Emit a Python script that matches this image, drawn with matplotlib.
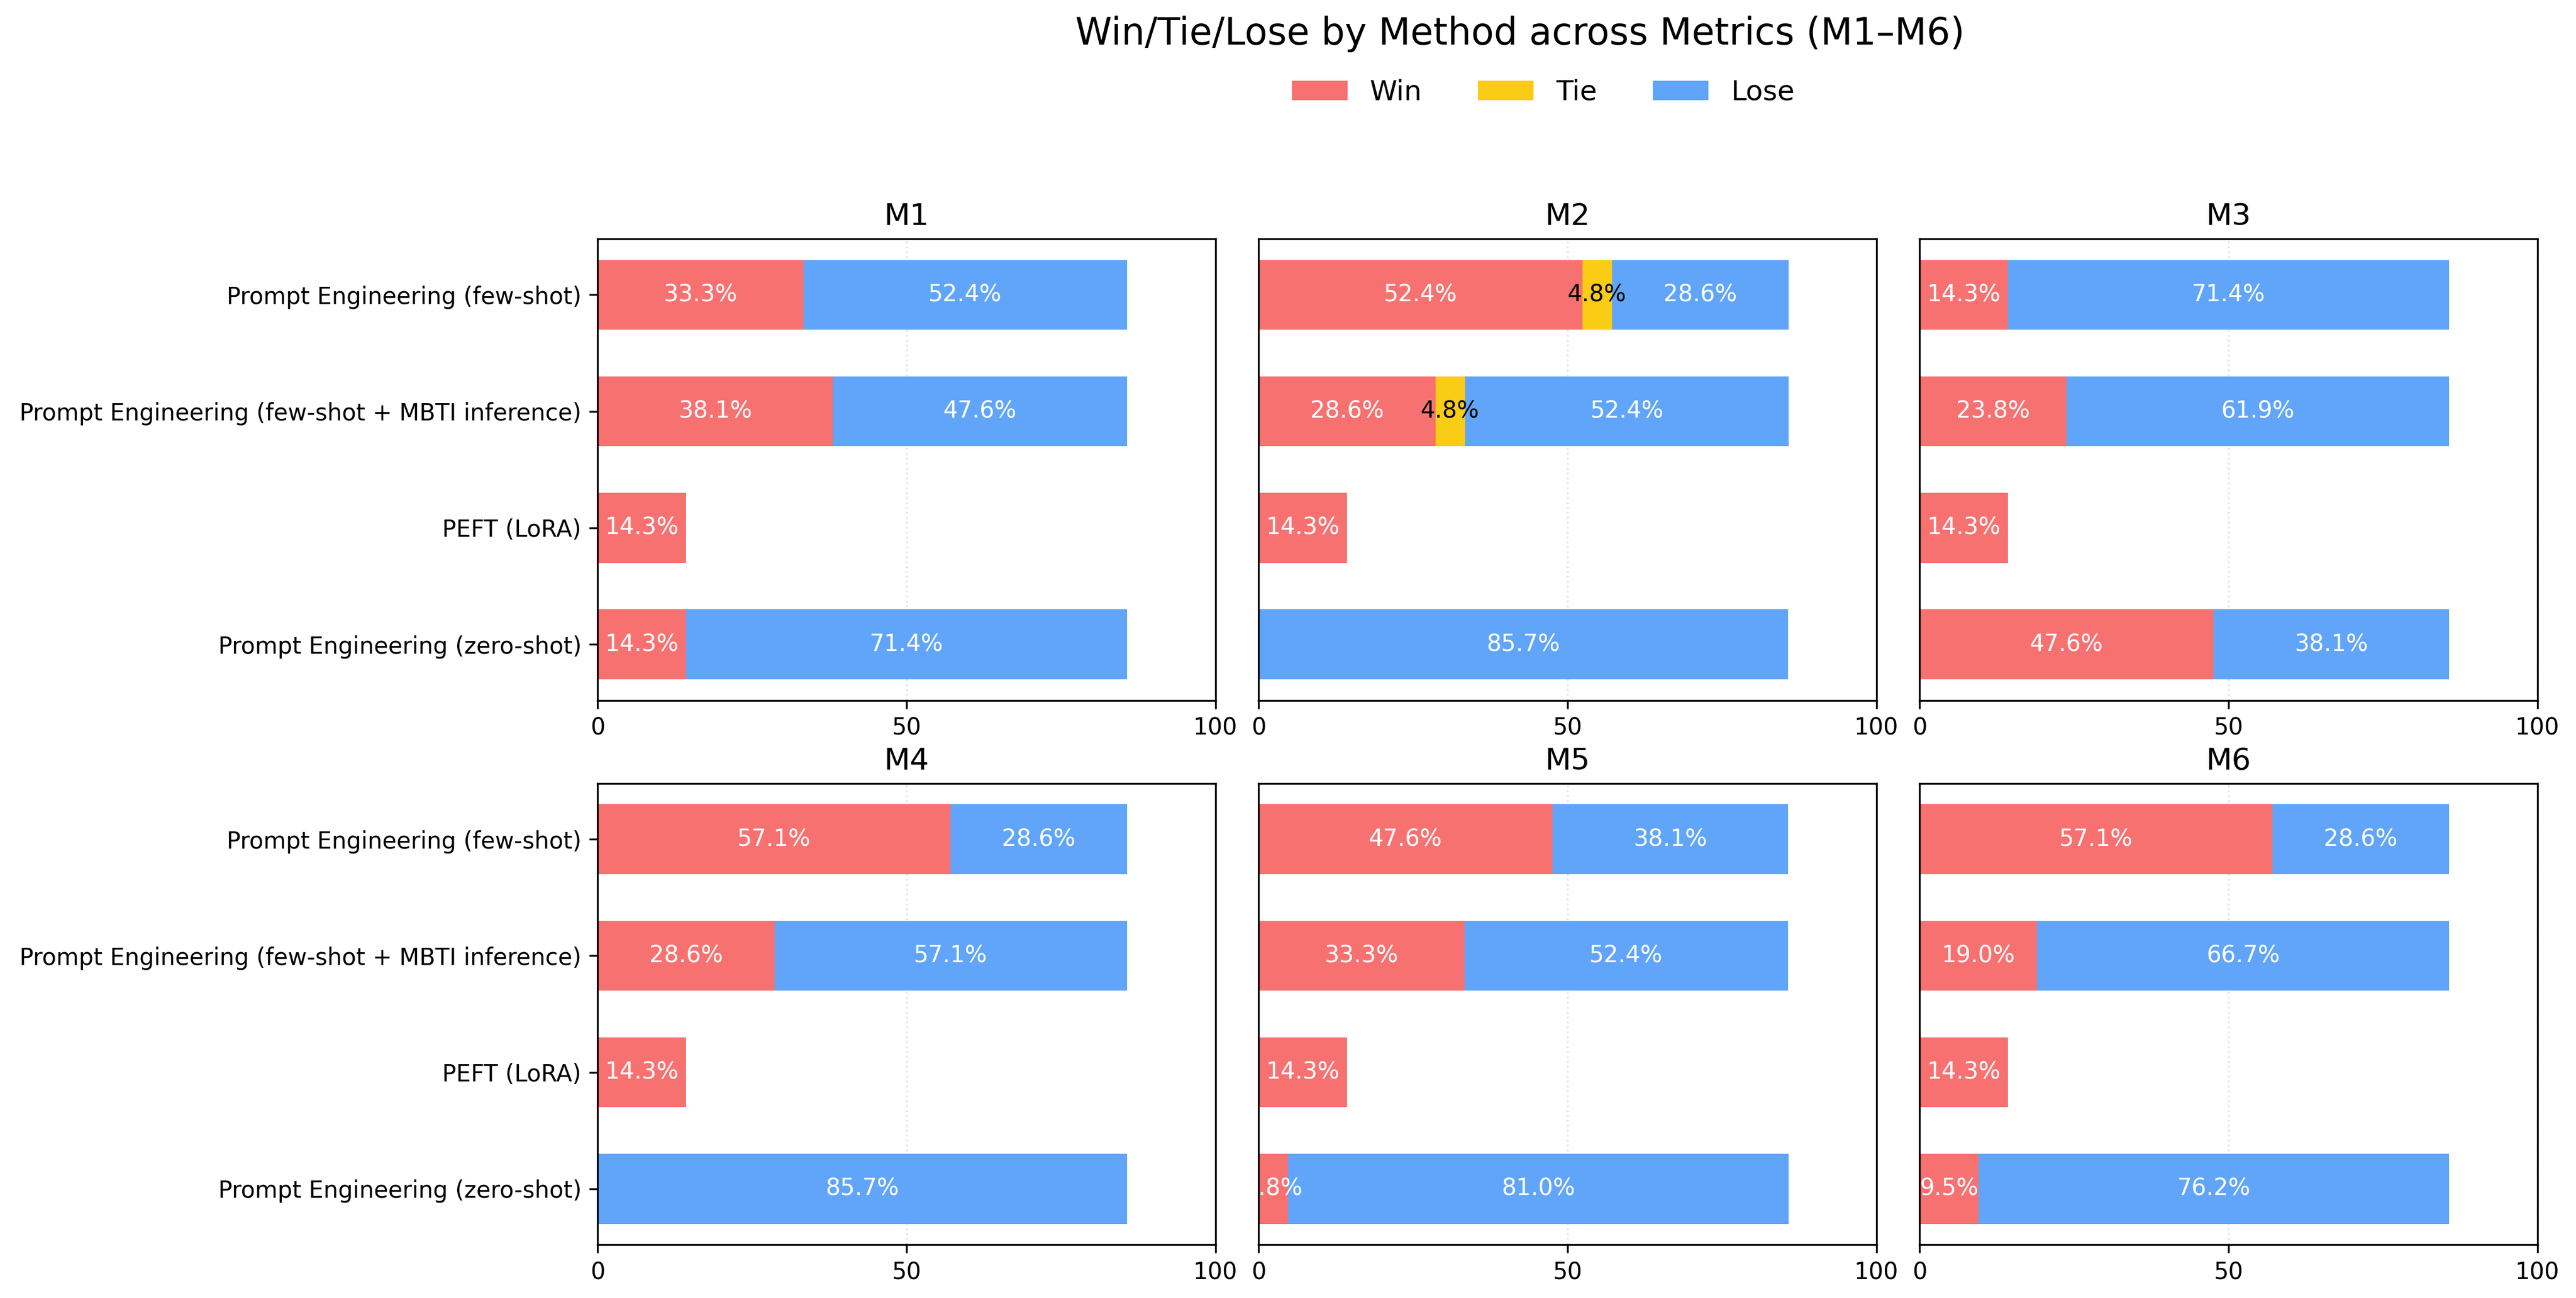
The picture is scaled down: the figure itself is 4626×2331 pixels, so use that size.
import numpy as np
import matplotlib
matplotlib.use("Agg")
import matplotlib.pyplot as plt

# methods, top to bottom
methods = [
    "Prompt Engineering (few-shot)",
    "Prompt Engineering (few-shot + MBTI inference)",
    "PEFT (LoRA)",
    "Prompt Engineering (zero-shot)",
]
metrics = ["M1", "M2", "M3", "M4", "M5", "M6"]

# percentages per metric, same order as methods
win_M1 = [33.3, 38.1, 14.3, 14.3]
tie_M1 = [0.0, 0.0, 0.0, 0.0]
lose_M1 = [52.4, 47.6, 0.0, 71.4]

win_M2 = [52.4, 28.6, 14.3, 0.0]
tie_M2 = [4.8, 4.8, 0.0, 0.0]
lose_M2 = [28.6, 52.4, 0.0, 85.7]

win_M3 = [14.3, 23.8, 14.3, 47.6]
tie_M3 = [0.0, 0.0, 0.0, 0.0]
lose_M3 = [71.4, 61.9, 0.0, 38.1]

win_M4 = [57.1, 28.6, 14.3, 0.0]
tie_M4 = [0.0, 0.0, 0.0, 0.0]
lose_M4 = [28.6, 57.1, 0.0, 85.7]

win_M5 = [47.6, 33.3, 14.3, 4.8]
tie_M5 = [0.0, 0.0, 0.0, 0.0]
lose_M5 = [38.1, 52.4, 0.0, 81.0]

win_M6 = [57.1, 19.0, 14.3, 9.5]
tie_M6 = [0.0, 0.0, 0.0, 0.0]
lose_M6 = [28.6, 66.7, 0.0, 76.2]

wins = [win_M1, win_M2, win_M3, win_M4, win_M5, win_M6]
ties = [tie_M1, tie_M2, tie_M3, tie_M4, tie_M5, tie_M6]
loses = [lose_M1, lose_M2, lose_M3, lose_M4, lose_M5, lose_M6]

c_win = "#F87171"
c_tie = "#FACC15"
c_lose = "#60A5FA"

fig, axes = plt.subplots(2, 3, figsize=(15.42, 7.77), dpi=300, sharey=True)
fig.subplots_adjust(left=0.232, right=0.985, top=0.816, bottom=0.041,
                    wspace=0.07, hspace=0.18)

y = np.arange(len(methods))

for i, ax in enumerate(axes.flat):
    w = np.array(wins[i])
    t = np.array(ties[i])
    l = np.array(loses[i])
    hw = ax.barh(y, w, height=0.6, color=c_win, label="Win")
    ht = ax.barh(y, t, left=w, height=0.6, color=c_tie, label="Tie")
    hl = ax.barh(y, l, left=w + t, height=0.6, color=c_lose, label="Lose")

    # percentage labels in the middle of each segment
    for bars, vals, col in [(hw, w, "white"), (ht, t, "black"), (hl, l, "white")]:
        for b, v in zip(bars, vals):
            if v <= 0:
                continue
            ax.text(b.get_x() + b.get_width() / 2, b.get_y() + b.get_height() / 2,
                    f"{v:.1f}%", ha="center", va="center", color=col,
                    fontsize=10, clip_on=True)

    ax.set_xlim(0, 100)
    ax.set_xticks([0, 50, 100])
    ax.set_title(metrics[i], fontsize=13)
    ax.grid(axis="x", linestyle=":", color="#dddddd", alpha=0.8)
    ax.set_axisbelow(True)
    ax.tick_params(labelsize=10)
    if i % 3 != 0:
        ax.tick_params(axis="y", left=False)

axes[0, 0].set_yticks(y)
axes[0, 0].set_yticklabels(methods)
axes[0, 0].invert_yaxis()

fig.suptitle("Win/Tie/Lose by Method across Metrics (M1–M6)", fontsize=16,
             x=0.59, y=0.988)
handles, labels = axes[0, 1].get_legend_handles_labels()
fig.legend(handles, labels, loc="center", bbox_to_anchor=(0.599, 0.929), ncol=3,
           frameon=False, fontsize=12, columnspacing=2.0)

fig.savefig("out.png", dpi=300)
